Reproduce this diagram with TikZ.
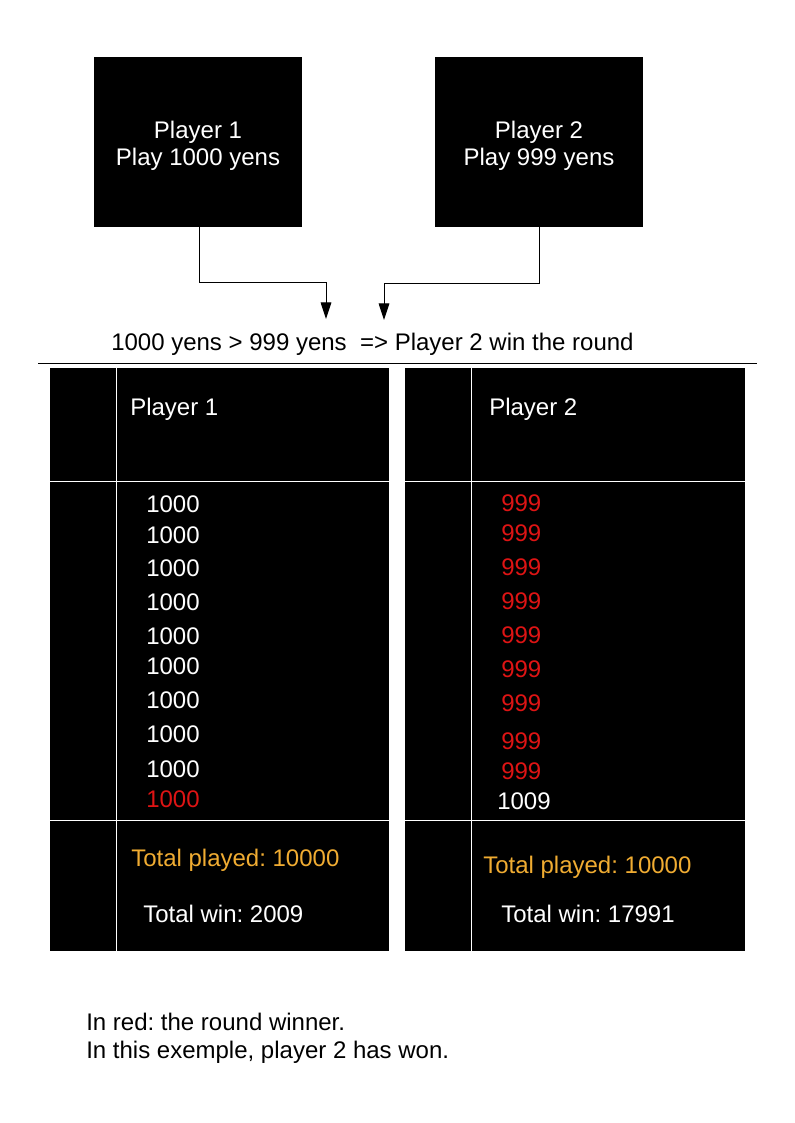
\documentclass[tikz,border=0pt]{standalone}
\usepackage{fontspec}
\setmainfont{Liberation Sans}
\usetikzlibrary{arrows.meta}
\definecolor{winred}{RGB}{222,20,20}
\definecolor{totorange}{RGB}{240,172,50}
\frenchspacing
\begin{document}
\begin{tikzpicture}[x=0.75pt,y=-0.75pt,
  every node/.style={font=\fontsize{18pt}{20.25pt}\selectfont},
  playerbox/.style={fill=black,minimum width=156pt,minimum height=127.5pt,inner sep=0pt},
  boxtext/.style={text=white,align=center,inner sep=0pt,yshift=-3pt},
  arr/.style={draw=black,line width=0.75pt,-{Triangle[length=12.5pt,width=8pt]}},
  txt/.style={anchor=base west,inner sep=0pt,text=white},
  red/.style={txt,text=winred},
  tot/.style={txt,text=totorange},
  grid/.style={draw=white,line width=0.75pt}]
\useasboundingbox (0,0) rectangle (794,1123);
\fill[white] (0,0) rectangle (794,1123);
% player boxes
\node[playerbox,label={[boxtext,name=b1t]center:Player 1\\Play 1000 yens}] (b1) at (198,142) {};
\node[playerbox,label={[boxtext,name=b2t]center:Player 2\\Play 999 yens}] (b2) at (539,142) {};
\coordinate (c1) at (326,282);
\coordinate (t1) at (326,319);
\coordinate (c2) at (384,283);
\coordinate (t2) at (384,320);
\draw[arr] ([xshift=0.75pt]b1.south) |- (c1) -- (t1);
\draw[arr] (b2.south) |- (c2) -- (t2);
\node[anchor=base west,inner sep=0pt] (res) at (111,350) {1000 yens > 999 yens \ => Player 2 win the round};
\coordinate (h1) at (38,363);
\coordinate (h2) at (757,363);
\draw[line width=0.75pt] (h1) -- (h2);
% tables
\fill[black] (50,368) rectangle (389,951);
\fill[black] (405,368) rectangle (745,951);
\draw[grid] (116,368) -- (116,951);
\draw[grid] (50,481) -- (389,481);
\draw[grid] (50,820) -- (389,820);
\draw[grid] (471,368) -- (471,951);
\draw[grid] (405,481) -- (745,481);
\draw[grid] (405,820) -- (745,820);
% left table text
\node[txt] (p1h) at (130,415) {Player 1};
\node[txt] (l1) at (146,512) {1000};
\node[txt] (l2) at (146,543) {1000};
\node[txt] (l3) at (146,576) {1000};
\node[txt] (l4) at (146,610) {1000};
\node[txt] (l5) at (146,644) {1000};
\node[txt] (l6) at (146,674) {1000};
\node[txt] (l7) at (146,708) {1000};
\node[txt] (l8) at (146,742) {1000};
\node[txt] (l9) at (146,777) {1000};
\node[red] (l10) at (146,807) {1000};
\node[tot] (lt) at (131,866) {Total played: 10000};
\node[txt] (lw) at (143,922) {Total win: 2009};
% right table text
\node[txt] (p2h) at (489,415) {Player 2};
\node[red] (r1) at (501,511) {999};
\node[red] (r2) at (501,541) {999};
\node[red] (r3) at (501,575) {999};
\node[red] (r4) at (501,609) {999};
\node[red] (r5) at (501,643) {999};
\node[red] (r6) at (501,677) {999};
\node[red] (r7) at (501,711) {999};
\node[red] (r8) at (501,749) {999};
\node[red] (r9) at (501,779) {999};
\node[txt] (r10) at (497,809) {1009};
\node[tot] (rt) at (483,873) {Total played: 10000};
\node[txt] (rw) at (501,922) {Total win: 17991};
% note
\node[anchor=base west,inner sep=0pt] (n1) at (86,1030) {In red: the round winner.};
\node[anchor=base west,inner sep=0pt] (n2) at (86,1058) {In this exemple, player 2 has won.};
\end{tikzpicture}
\end{document}
